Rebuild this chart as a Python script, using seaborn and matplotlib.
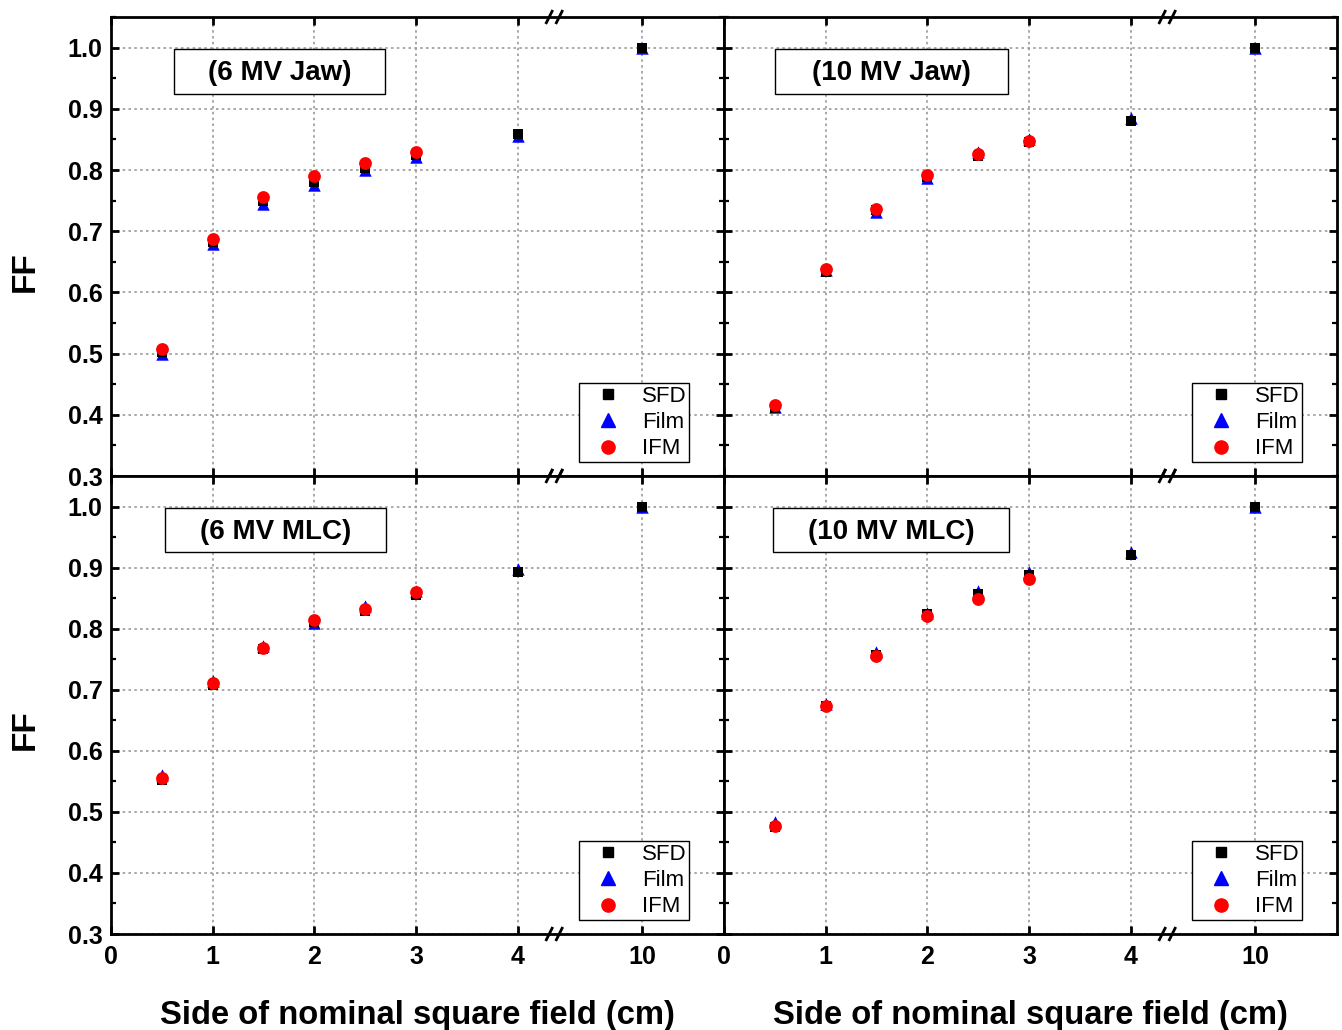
import numpy as np
import pandas as pd
import matplotlib
matplotlib.use("Agg")
import matplotlib.pyplot as plt
from matplotlib.patches import Rectangle
from matplotlib.lines import Line2D
from matplotlib.ticker import MultipleLocator, FixedLocator
import seaborn as sns

# ---------------- data ----------------
x_all = [0.5, 1, 1.5, 2, 2.5, 3, 4, 10]
x_ifm = [0.5, 1, 1.5, 2, 2.5, 3]
tick_positions = [0, 1, 2, 3, 4, 10]
tick_labels = ["0", "1", "2", "3", "4", "10"]
y_ticks = [0.3, 0.4, 0.5, 0.6, 0.7, 0.8, 0.9, 1.0]
y_tick_labels = ["0.3", "0.4", "0.5", "0.6", "0.7", "0.8", "0.9", "1.0"]

panel_titles = ["(6 MV Jaw)", "(10 MV Jaw)", "(6 MV MLC)", "(10 MV MLC)"]

sfd_6jaw = [0.502, 0.682, 0.750, 0.781, 0.804, 0.825, 0.859, 1.000]
film_6jaw = [0.499, 0.679, 0.745, 0.776, 0.800, 0.821, 0.855, 1.000]
ifm_6jaw = [0.508, 0.688, 0.756, 0.790, 0.811, 0.829]

sfd_10jaw = [0.411, 0.633, 0.734, 0.789, 0.823, 0.846, 0.880, 1.000]
film_10jaw = [0.413, 0.636, 0.732, 0.787, 0.830, 0.851, 0.885, 1.000]
ifm_10jaw = [0.416, 0.638, 0.736, 0.792, 0.826, 0.848]

sfd_6mlc = [0.552, 0.707, 0.766, 0.811, 0.829, 0.855, 0.893, 1.000]
film_6mlc = [0.560, 0.715, 0.772, 0.809, 0.837, 0.862, 0.898, 1.000]
ifm_6mlc = [0.555, 0.711, 0.769, 0.814, 0.832, 0.860]

sfd_10mlc = [0.476, 0.674, 0.757, 0.824, 0.857, 0.888, 0.920, 1.000]
film_10mlc = [0.484, 0.676, 0.762, 0.826, 0.861, 0.893, 0.925, 1.000]
ifm_10mlc = [0.477, 0.673, 0.755, 0.821, 0.849, 0.882]

panels = [
    (sfd_6jaw, film_6jaw, ifm_6jaw),
    (sfd_10jaw, film_10jaw, ifm_10jaw),
    (sfd_6mlc, film_6mlc, ifm_6mlc),
    (sfd_10mlc, film_10mlc, ifm_10mlc),
]

rows = []
for title, (s, f, i) in zip(panel_titles, panels):
    for xv, yv in zip(x_all, s):
        rows.append((title, "SFD", xv, yv))
    for xv, yv in zip(x_all, f):
        rows.append((title, "Film", xv, yv))
    for xv, yv in zip(x_ifm, i):
        rows.append((title, "IFM", xv, yv))
df = pd.DataFrame(rows, columns=["panel", "method", "x", "FF"])

# ---------------- style ----------------
sns.set_theme(style="ticks")
plt.rcParams["font.family"] = ["Liberation Sans", "DejaVu Sans"]
plt.rcParams["axes.linewidth"] = 2.0
for key in ["text.color", "axes.labelcolor", "xtick.color", "ytick.color",
            "axes.edgecolor"]:
    plt.rcParams[key] = "black"

styles = {
    "Film": dict(marker="^", color="#0000ff", s=80, zorder=3),
    "SFD": dict(marker="s", color="#000000", s=45, zorder=4),
    "IFM": dict(marker="o", color="#ff0000", s=85, zorder=5),
}

# broken x-axis scale: linear up to 4.4, compressed after
BRK = 4.4
K = 0.1468


def fwd(x):
    x = np.asarray(x, dtype=float)
    return np.where(x <= BRK, x, BRK + (x - BRK) * K)


def inv(y):
    y = np.asarray(y, dtype=float)
    return np.where(y <= BRK, y, BRK + (y - BRK) / K)


W, H = 1342, 1030
fig = plt.figure(figsize=(W / 100, H / 100), dpi=100)

L0, M0, R0 = 111, 724, 1337
T0, C0, B0 = 17, 476, 934
boxes_px = [
    (L0, T0, M0, C0), (M0, T0, R0, C0),
    (L0, C0, M0, B0), (M0, C0, R0, B0),
]
title_boxes = [
    (174, 49, 385, 94), (775, 49, 1008, 94),
    (165, 508, 386, 552), (773, 508, 1009, 552),
]

x_right = float(inv(6.03))

for idx, (title, (x0, y0, x1, y1)) in enumerate(zip(panel_titles, boxes_px)):
    ax = fig.add_axes([x0 / W, 1 - y1 / H, (x1 - x0) / W, (y1 - y0) / H])
    ax.set_xscale("function", functions=(fwd, inv))
    sub = df[df["panel"] == title]
    for m in ["Film", "SFD", "IFM"]:
        st = styles[m]
        sns.scatterplot(data=sub[sub["method"] == m], x="x", y="FF", ax=ax,
                        marker=st["marker"], color=st["color"], s=st["s"],
                        linewidth=0, zorder=st["zorder"], legend=False)
    ax.set_xlim(0, x_right)
    ax.set_ylim(0.3, 1.05)
    ax.xaxis.set_major_locator(FixedLocator(tick_positions))
    ax.xaxis.set_minor_locator(FixedLocator([]))
    ax.yaxis.set_major_locator(MultipleLocator(0.1))
    ax.yaxis.set_minor_locator(MultipleLocator(0.05))
    ax.tick_params(which="both", direction="in", top=True, right=True,
                   bottom=True, left=True)
    ax.tick_params(which="major", length=6, width=2)
    ax.tick_params(which="minor", length=3.5, width=1.6)
    ax.grid(True, which="major", linestyle=(0, (1.5, 2.0)), color="#9a9a9a",
            linewidth=1.2)
    ax.set_axisbelow(True)

    if idx in (2, 3):
        ax.set_xticklabels(tick_labels, fontsize=18, fontweight="bold")
        ax.tick_params(axis="x", pad=8)
        ax.set_xlabel("Side of nominal square field (cm)", fontsize=23.6,
                      fontweight="bold", labelpad=22)
    else:
        ax.set_xticklabels([])
        ax.set_xlabel("")
    if idx in (0, 2):
        ax.set_yticks(y_ticks)
        ax.set_yticklabels(y_tick_labels, fontsize=18, fontweight="bold")
        ax.tick_params(axis="y", pad=6)
        ax.set_ylabel("FF", fontsize=24, fontweight="bold")
        ax.yaxis.set_label_coords(-0.1145, 0.446)
    else:
        ax.set_yticklabels([])
        ax.set_ylabel("")

    # title box
    bx0, by0, bx1, by1 = title_boxes[idx]
    pw, ph = x1 - x0, y1 - y0
    rx0 = (bx0 - x0) / pw
    ry0 = (y1 - by1) / ph
    rw = (bx1 - bx0) / pw
    rh = (by1 - by0) / ph
    ax.add_patch(Rectangle((rx0, ry0), rw, rh, transform=ax.transAxes,
                           fill=True, facecolor="white", edgecolor="black",
                           linewidth=1.0, zorder=6))
    ax.text(rx0 + rw / 2, ry0 + rh / 2 - 2.0 / ph, title, transform=ax.transAxes,
            ha="center", va="center", fontsize=20, fontweight="bold", zorder=7)

    # axis-break marks
    bxp = 4.36 / 6.03
    dx = 3.5 / pw
    dy = 7.0 / ph
    gap = 10 / pw
    for yb in (0.0, 1.0):
        for off in (-gap / 2, gap / 2):
            ax.plot([bxp + off - dx, bxp + off + dx], [yb - dy, yb + dy],
                    transform=ax.transAxes, color="black", linewidth=2.0,
                    clip_on=False, zorder=10, solid_capstyle="butt")

    # legend
    handles = [
        Line2D([], [], linestyle="none", marker="s", color="black", markersize=6.8),
        Line2D([], [], linestyle="none", marker="^", color="#0000ff", markersize=9.5),
        Line2D([], [], linestyle="none", marker="o", color="#ff0000", markersize=9.5),
    ]
    leg = ax.legend(handles, ["SFD", "Film", "IFM"], loc="lower right",
                    bbox_to_anchor=((688 - 111) / 612, 14 / 459),
                    fontsize=16, frameon=True, fancybox=False,
                    edgecolor="black", framealpha=1, borderpad=0.12,
                    labelspacing=0.24, handlelength=2.4, handletextpad=0.3,
                    borderaxespad=0)
    leg.get_frame().set_linewidth(1.0)
    leg.set_zorder(8)

fig.savefig("out.png", dpi=100)
